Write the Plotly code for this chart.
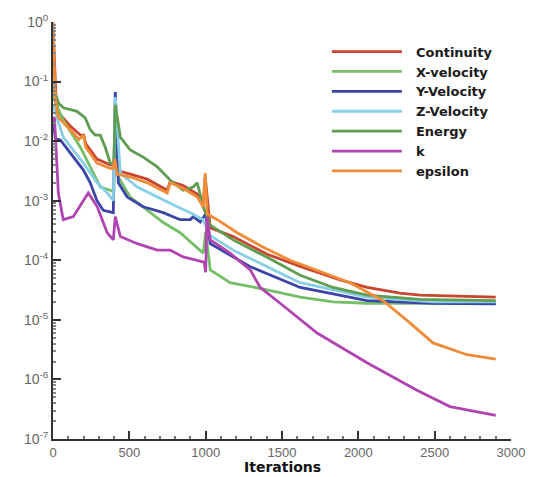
import plotly.graph_objects as go

# ---- data (iterations, residual values) ----
continuity_it = [0, 10, 20, 35, 113, 190, 200, 215, 288, 375, 395, 405, 420, 506, 617, 748, 768, 853, 945, 984, 997, 1030, 1180, 1403, 1619, 1881, 2057, 2273, 2404, 2900]
continuity_val = [0.9, 0.15, 0.05, 0.03, 0.018, 0.012, 0.013, 0.009, 0.005, 0.004, 0.004, 0.0055, 0.0032, 0.0028, 0.0023, 0.0015, 0.0021, 0.0018, 0.0013, 0.0009, 0.0025, 0.00035, 0.00025, 0.000126, 7.9e-5, 4.7e-5, 3.5e-5, 2.8e-5, 2.6e-5, 2.4e-5]

xvel_it = [0, 22, 67, 179, 244, 310, 375, 398, 408, 428, 506, 617, 722, 833, 945, 984, 1000, 1030, 1160, 1403, 1619, 1835, 2057, 2900]
xvel_val = [0.06, 0.0407, 0.0226, 0.0079, 0.0037, 0.0017, 0.0015, 0.0014, 0.0355, 0.0025, 0.00115, 0.00069, 0.00043, 0.00029, 0.000166, 0.000132, 0.0003, 6.9e-5, 4.2e-5, 3.2e-5, 2.4e-5, 2.0e-5, 1.9e-5, 1.9e-5]

yvel_it = [0, 15, 48, 113, 198, 244, 288, 329, 395, 408, 428, 486, 591, 722, 833, 899, 918, 964, 1000, 1030, 1180, 1292, 1619, 2057, 2489, 2900]
yvel_val = [0.025, 0.011, 0.0105, 0.0063, 0.0033, 0.002, 0.001, 0.00069, 0.00063, 0.0668, 0.002, 0.00115, 0.00079, 0.00063, 0.00048, 0.00048, 0.00054, 0.00044, 0.0006, 0.00019, 0.000112, 7.8e-5, 3.5e-5, 2.1e-5, 1.9e-5, 1.86e-5]

zvel_it = [0, 67, 198, 290, 355, 395, 408, 441, 552, 683, 814, 899, 984, 1030, 1180, 1403, 1619, 2057, 2489, 2900]
zvel_val = [0.04, 0.0117, 0.0043, 0.002, 0.00135, 0.001, 0.055, 0.0029, 0.0017, 0.00115, 0.00079, 0.00063, 0.00048, 0.00026, 0.000148, 7.8e-5, 4.2e-5, 2.4e-5, 2.0e-5, 2.0e-5]

energy_it = [0, 37, 69, 157, 211, 244, 277, 310, 342, 375, 398, 408, 441, 506, 591, 683, 768, 853, 918, 945, 984, 1030, 1180, 1403, 1619, 1835, 2057, 2404, 2900]
energy_val = [0.08, 0.0432, 0.0363, 0.0316, 0.0245, 0.0155, 0.0126, 0.0126, 0.0079, 0.0043, 0.004, 0.0407, 0.0117, 0.0071, 0.0054, 0.0037, 0.0022, 0.0015, 0.0017, 0.002, 0.00079, 0.00039, 0.00022, 0.000112, 5.6e-5, 3.5e-5, 2.6e-5, 2.2e-5, 2.1e-5]

k_it = [0, 10, 35, 67, 133, 198, 231, 290, 355, 395, 408, 441, 552, 683, 768, 853, 945, 990, 1000, 1008, 1030, 1160, 1292, 1357, 1488, 1730, 2057, 2384, 2600, 2900]
k_val = [0.025, 0.024, 0.00135, 0.00048, 0.00054, 0.001, 0.00135, 0.00079, 0.00029, 0.00022, 0.00054, 0.00025, 0.00019, 0.000148, 0.000148, 0.000114, 0.000101, 9.3e-5, 6.3e-5, 0.00054, 0.00022, 0.000132, 6.9e-5, 3.5e-5, 1.9e-5, 6.0e-6, 1.9e-6, 6.6e-7, 3.5e-7, 2.5e-7]

eps_it = [0, 15, 26, 35, 113, 170, 200, 215, 288, 375, 395, 405, 420, 506, 617, 748, 768, 853, 945, 984, 997, 1010, 1076, 1207, 1377, 1553, 1946, 2162, 2338, 2489, 2712, 2900]
eps_val = [1.0, 0.049, 0.033, 0.025, 0.0155, 0.0107, 0.0126, 0.0079, 0.0043, 0.0035, 0.0035, 0.005, 0.0028, 0.0025, 0.002, 0.00135, 0.002, 0.0016, 0.00115, 0.00079, 0.0029, 0.0006, 0.00048, 0.00029, 0.000166, 0.0001, 4.2e-5, 2.1e-5, 8.9e-6, 4.1e-6, 2.6e-6, 2.2e-6]

x_ticks = [0, 500, 1000, 1500, 2000, 2500, 3000]
y_tickvals = [1, 1e-1, 1e-2, 1e-3, 1e-4, 1e-5, 1e-6, 1e-7]
y_ticktext = ["10<sup>0</sup>", "10<sup>-1</sup>", "10<sup>-2</sup>", "10<sup>-3</sup>",
              "10<sup>-4</sup>", "10<sup>-5</sup>", "10<sup>-6</sup>", "10<sup>-7</sup>"]
y_minor = [m * d for d in y_tickvals[1:] for m in range(2, 10)]
x_title = "Iterations"

series = [
    ("Continuity", continuity_it, continuity_val, "#c8452f"),
    ("X-velocity", xvel_it, xvel_val, "#74bf68"),
    ("Y-Velocity", yvel_it, yvel_val, "#3c44a8"),
    ("Z-Velocity", zvel_it, zvel_val, "#86cfe6"),
    ("Energy", energy_it, energy_val, "#5f9e50"),
    ("k", k_it, k_val, "#b044b0"),
    ("epsilon", eps_it, eps_val, "#f08c38"),
]

fig = go.Figure()
for name, xs, ys, col in series:
    fig.add_trace(go.Scatter(x=xs, y=ys, mode="lines", name="\u00a0\u00a0" + name,
                             line=dict(color=col, width=2.8)))

fig.update_layout(
    width=535, height=477,
    margin=dict(l=53, r=24, t=22, b=38),
    paper_bgcolor="white", plot_bgcolor="white",
    font=dict(family="Liberation Sans", size=13, color="#555"),
    legend=dict(x=0.598, y=0.965, xanchor="left", yanchor="top",
                bgcolor="rgba(0,0,0,0)", itemwidth=70,
                font=dict(family="DejaVu Sans", size=13, color="#1a1a1a", weight="bold"),
                tracegroupgap=0),
    showlegend=True,
    annotations=[dict(text=x_title, xref="paper", yref="paper", x=0.5, y=-0.091,
                      xanchor="center", yanchor="bottom", showarrow=False,
                      font=dict(family="DejaVu Sans", size=14, color="#111", weight="bold"))],
)
fig.update_xaxes(
    range=[0, 3000], tickvals=x_ticks, ticks="inside", ticklen=8, tickwidth=1.5,
    tickcolor="#333", showline=True, linecolor="#333", linewidth=2, showgrid=False,
    zeroline=False, automargin=False, ticklabelstandoff=0,
    minor=dict(ticks="inside", ticklen=3, dtick=100, tickcolor="#777", showgrid=False),
    tickfont=dict(family="Liberation Sans", size=13, color="#666"),
)
fig.update_yaxes(
    type="log", range=[-7, 0], tickvals=y_tickvals, ticktext=y_ticktext,
    ticks="inside", ticklen=8, tickwidth=1.5, tickcolor="#333",
    showline=True, linecolor="#333", linewidth=2, showgrid=False, zeroline=False,
    automargin=False,
    minor=dict(ticks="inside", ticklen=3, tickvals=y_minor, tickcolor="#888", showgrid=False),
    tickfont=dict(family="Liberation Sans", size=14, color="#666"),
)

fig.write_html("out.html")
